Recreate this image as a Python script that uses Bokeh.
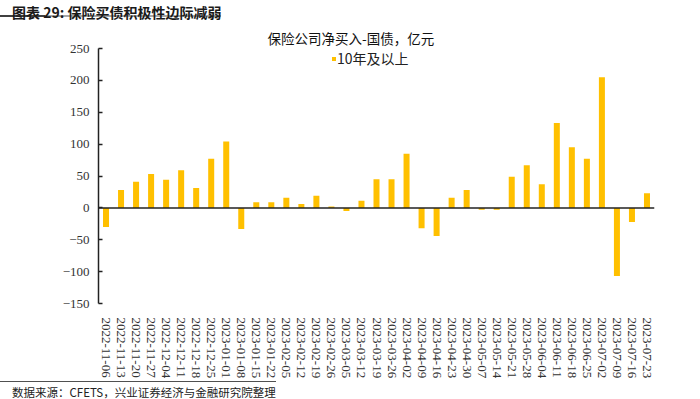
from bokeh.plotting import figure
from bokeh.models import (Range1d, FactorRange, FixedTicker, Span, Legend,
                          LegendItem, Div, ColumnDataSource)
from bokeh.layouts import column
from bokeh.embed import file_html
from bokeh.resources import INLINE

# ---- data ----
dates = [
    "2022-11-06", "2022-11-13", "2022-11-20", "2022-11-27", "2022-12-04",
    "2022-12-11", "2022-12-18", "2022-12-25", "2023-01-01", "2023-01-08",
    "2023-01-15", "2023-01-22", "2023-02-05", "2023-02-12", "2023-02-19",
    "2023-02-26", "2023-03-05", "2023-03-12", "2023-03-19", "2023-03-26",
    "2023-04-02", "2023-04-09", "2023-04-16", "2023-04-23", "2023-04-30",
    "2023-05-07", "2023-05-14", "2023-05-21", "2023-05-28", "2023-06-04",
    "2023-06-11", "2023-06-18", "2023-06-25", "2023-07-02", "2023-07-09",
    "2023-07-16", "2023-07-23",
]
values = [
    -30, 28, 41, 53, 44, 59, 31, 77, 104, -33,
    9, 9, 16, 6, 19, 2, -5, 11, 45, 45,
    85, -32, -44, 16, 28, -3, -3, 49, 67, 37,
    133, 95, 77, 205, -107, -22, 23,
]
series_name = "10年及以上"
chart_title = "保险公司净买入-国债，亿元"
header_text = "图表 29: 保险买债积极性边际减弱"
footer_text = "数据来源：CFETS，兴业证券经济与金融研究院整理"
y_ticks = [-150, -100, -50, 0, 50, 100, 150, 200, 250]
y_tick_labels = ["\u2212150", "\u2212100", "\u221250", "0", "50", "100", "150", "200", "250"]

CJK = "Noto Sans CJK SC"
SERIF = "Liberation Serif"

src = ColumnDataSource(data=dict(date=dates, val=values))

p = figure(
    width=700, height=359,
    x_range=FactorRange(*dates, range_padding=0),
    y_range=Range1d(-150, 250),
    output_backend="svg", toolbar_location=None,
    min_border_left=98, min_border_right=46,
    min_border_top=26, min_border_bottom=77,
)
p.outline_line_color = None
p.xgrid.grid_line_color = None
p.ygrid.grid_line_color = None
p.background_fill_color = "white"
p.border_fill_color = "white"

# chart title
p.title.text = chart_title
p.title.align = "left"
p.title.offset = 169
p.title.standoff = 2
p.title.text_font = CJK
p.title.text_font_size = "13.5px"
p.title.text_font_style = "normal"
p.title.text_color = "#111111"

r = p.vbar(x="date", top="val", width=0.4, source=src,
           fill_color="#FFC000", line_color=None)

# zero line
p.add_layout(Span(location=0, dimension="width", line_color="#222222", line_width=1.5))

# y axis
ya = p.yaxis[0]
ya.ticker = FixedTicker(ticks=y_ticks)
ya.major_label_overrides = {t: s for t, s in zip(y_ticks, y_tick_labels)}
ya.axis_line_color = "#222222"
ya.axis_line_width = 1.5
ya.major_tick_in = 4
ya.major_tick_out = 0
ya.major_tick_line_color = "#222222"
ya.major_tick_line_width = 1.5
ya.minor_tick_line_color = None
ya.major_label_standoff = 9
ya.major_label_text_font = SERIF
ya.major_label_text_font_size = "13px"
ya.major_label_text_color = "#333333"

# x axis
xa = p.xaxis[0]
xa.axis_line_color = None
xa.major_tick_line_color = None
xa.minor_tick_line_color = None
xa.major_label_orientation = "vertical"
xa.major_label_standoff = 8
xa.major_label_text_font = SERIF
xa.major_label_text_font_size = "13px"
xa.major_label_text_color = "#333333"

# legend
legend = Legend(items=[LegendItem(label=series_name, renderers=[r])],
                location=(233, 235), orientation="horizontal",
                background_fill_alpha=0, border_line_color=None,
                padding=0, margin=0, spacing=0,
                glyph_width=5, glyph_height=5, label_standoff=1,
                label_text_font=CJK, label_text_font_size="14px",
                label_text_color="#222222", label_height=14)
p.add_layout(legend, "center")

header = Div(
    text=(
        '<div style="font-family:\'Noto Sans CJK SC\';font-weight:bold;font-size:14px;'
        'line-height:14px;height:14px;padding-top:5px;color:#1a1a1a;padding-left:12px;'
        'white-space:nowrap;">' + header_text +
        '</div><div style="height:2px;margin-top:1px;background:linear-gradient(to right,#404040 0,'
        '#404040 45px,#a8a8a8 45px,#a8a8a8 100%);"></div>'
    ),
    width=700, height=22, margin=0,
)
footer = Div(
    text=(
        '<div style="border-top:1.5px solid #505050;font-family:\'Noto Sans CJK SC\';'
        'font-size:11.5px;line-height:12px;color:#222222;padding-left:12px;padding-top:4px;'
        'white-space:nowrap;">' + footer_text + '</div>'
    ),
    width=700, height=18, margin=0,
)

layout = column(header, p, footer, spacing=0)
open("out.html", "w").write(file_html(layout, INLINE))
